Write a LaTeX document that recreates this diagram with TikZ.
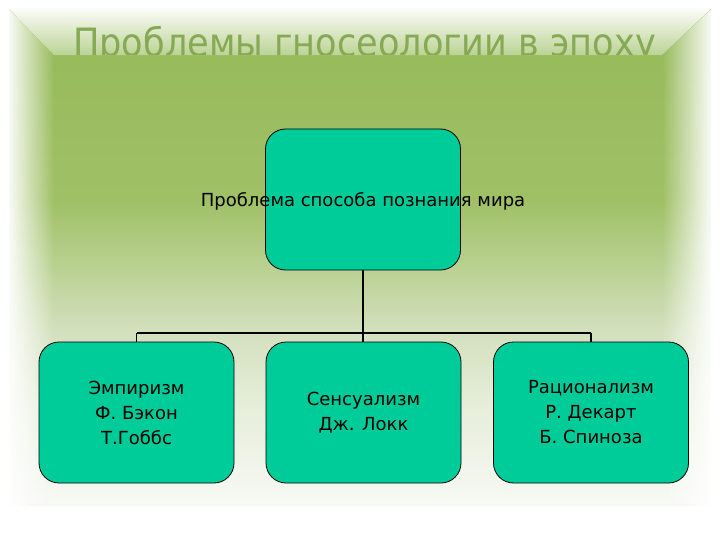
\documentclass[tikz,border=0pt]{standalone}
\usepackage{fontspec}
\setmainfont{DejaVu Sans}
\usetikzlibrary{fadings}
\definecolor{boxfill}{HTML}{00CC99}
\definecolor{titlecol}{HTML}{86A953}
\definecolor{cA}{HTML}{98BB5C}
\definecolor{cB}{HTML}{A0C066}
\definecolor{cC}{HTML}{BAD294}
\definecolor{cD}{HTML}{D3E0BD}
\definecolor{cE}{HTML}{E5EDD8}
\definecolor{cF}{HTML}{F3F6EE}
\definecolor{cG}{HTML}{F8F9F5}
\pgfdeclareverticalshading{bgshade}{100bp}{color(0bp)=(cG); color(25bp)=(cG); color(27.5bp)=(cF); color(35.56bp)=(cE); color(42.6bp)=(cD); color(48.64bp)=(cC); color(55.68bp)=(cB); color(70.27bp)=(cA); color(75bp)=(cA); color(100bp)=(cA)}
\tikzfading[name=fadeW, left color=transparent!0, right color=transparent!100]
\tikzfading[name=fadeE, left color=transparent!100, right color=transparent!0]
\tikzfading[name=fadeN, top color=transparent!0, bottom color=transparent!65]
\tikzset{
  box/.style={draw=black, line width=0.8pt, fill=boxfill, rounded corners=20pt,
    minimum width=195pt, minimum height=141pt, inner sep=0pt},
  lbl/.style={font=\fontsize{18}{25}\selectfont, align=center, text=black},
  bus/.style={draw=black, line width=1.6pt},
  stem/.style={draw=black, line width=2.2pt},
  titletxt/.style={font=\fontsize{39}{42}\selectfont, text=titlecol, inner sep=0pt, anchor=base west}
}
\begin{document}
\begin{tikzpicture}[x=1pt,y=-1pt]
\useasboundingbox (0,0) rectangle (720,540);
\fill[white] (0,0) rectangle (720,540);
% background panel
\shade[shading=bgshade] (9,9) rectangle (711,505);
% soft edges
\fill[white, path fading=fadeW] (6,6) -- (54,55) -- (54,500) -- (6,508) -- cycle;
\fill[white, path fading=fadeE] (714,6) -- (662,55) -- (662,500) -- (714,508) -- cycle;
\fill[white, path fading=fadeN] (6,6) -- (714,6) -- (662,55) -- (54,55) -- cycle;
% title, hidden below the panel edge
\begin{scope}
  \clip (0,0) rectangle (720,55);
  \node[titletxt] (title) at (73,57) {\scalebox{0.9}[1]{Проблемы гносеологии в эпоху}};
\end{scope}
% boxes
\node[box] (top) at (363,199.5) {};
\node[lbl] (toplbl) at (363,201) {Проблема способа познания мира};
\node[box, lbl] (emp) at (136.5,412.5) {Эмпиризм\\Ф. Бэкон\\Т.Гоббс};
\node[box, lbl] (sens) at (363.5,412.5) {Сенсуализм\\Дж. Локк};
\node[box, lbl] (rat) at (591,412.5) {Рационализм\\Р. Декарт\\Б. Спиноза};
% connectors
\coordinate (busmid) at (363,333);
\draw[stem] (top.south) -- (busmid);
\draw[bus] (emp.north |- busmid) -- (rat.north |- busmid);
\draw[bus] (emp.north |- busmid) -- (emp.north);
\draw[bus] (rat.north |- busmid) -- (rat.north);
\draw[stem] (busmid) -- (busmid |- sens.north);
\end{tikzpicture}
\end{document}
